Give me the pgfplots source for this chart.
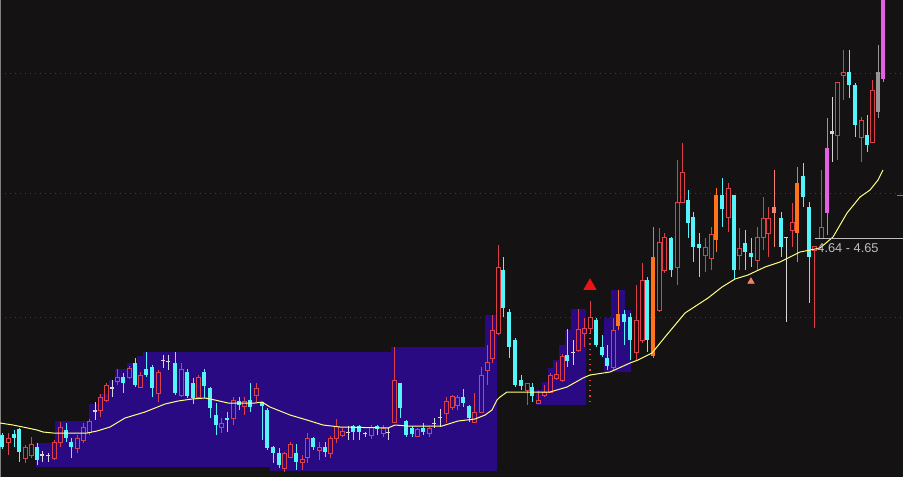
\documentclass[border=0pt]{standalone}
\usepackage{pgfplots}
\pgfplotsset{compat=1.18}
\usepackage{pgfplotstable}
\usepackage{fontspec}
\setmainfont{Liberation Sans}
\definecolor{bg}{RGB}{20,18,19}
\definecolor{band}{RGB}{42,10,130}
\definecolor{upred}{RGB}{222,64,74}
\definecolor{dncyan}{RGB}{84,245,250}
\definecolor{orng}{RGB}{255,115,25}
\definecolor{mgnt}{RGB}{230,95,230}
\definecolor{gry}{RGB}{150,150,150}
\definecolor{slmn}{RGB}{240,130,110}
\definecolor{doji}{RGB}{215,215,215}
\definecolor{ma}{RGB}{255,255,130}
\definecolor{gridc}{RGB}{64,58,58}
\definecolor{txtc}{RGB}{190,190,190}
\definecolor{trired}{RGB}{235,20,20}

% columns: x, body top, body bottom, high, low (screen units, y downward)
\pgfplotstableread{
x t b h l
8 438 442 433 455
25 447 458 445 463
31 444 455 437 458
54 442 458 440 460
60 427 442 422 447
77 438 448 435 453
83 427 440 423 443
89 421 432 419 435
100 397 410 394 417
106 385 400 383 402
117 377 381 369 385
129 368 377 366 379
140 375 387 372 388
158 372 393 370 402
181 369 395 363 397
198 377 397 375 398
221 423 427 418 433
233 400 418 397 425
244 401 406 397 415
256 388 395 383 402
284 453 468 452 472
290 444 457 442 458
302 459 462 455 470
307 438 457 433 463
319 447 450 442 460
330 438 453 436 458
336 426 438 419 443
342 431 435 428 437
371 427 435 425 439
383 428 433 425 437
394 380 422 347 422
417 429 436 428 437
429 428 433 427 437
446 401 413 397 423
452 396 407 395 410
457 397 405 395 410
474 412 422 393 422
481 375 412 367 412
487 362 370 345 385
492 330 358 315 363
498 267 333 245 335
527 383 390 383 405
538 400 403 391 403
544 392 395 385 397
550 375 392 373 393
556 374 378 362 380
562 356 380 354 382
578 329 350 309 352
584 328 333 318 347
590 317 328 301 333
613 330 367 318 370
636 320 352 285 360
642 280 340 263 343
659 242 310 228 312
664 237 270 233 273
677 202 267 160 285
682 172 202 143 203
705 247 255 238 272
711 234 258 227 270
728 188 217 183 232
739 248 255 228 270
757 237 260 227 270
763 218 237 197 250
768 218 233 207 257
792 222 230 203 247
814 246 250 246 328
821 227 238 170 238
837 82 135 82 160
843 72 75 50 100
861 120 137 117 162
872 90 142 80 143
}\redtab

\pgfplotstableread{
x t b h l
2 435 447 433 449
14 434 438 430 447
19 429 452 428 462
37 447 460 443 465
66 430 438 423 442
71 442 447 438 458
123 377 383 373 393
135 363 385 358 387
146 369 375 352 377
152 367 388 365 397
175 363 393 352 395
187 372 396 369 398
193 383 398 378 404
204 372 386 369 398
210 388 408 387 418
216 415 425 403 435
227 418 420 412 432
239 401 405 397 410
250 400 407 383 412
262 402 406 402 440
267 410 448 408 450
273 447 453 446 463
279 453 465 448 468
296 453 462 444 470
313 438 447 437 450
325 447 452 442 457
353 426 432 425 440
359 426 432 425 440
377 426 429 425 435
400 383 408 383 418
406 421 435 420 437
412 428 434 426 437
423 428 432 423 435
463 397 403 389 407
469 406 418 405 422
503 270 308 257 317
509 312 347 309 358
515 340 385 338 387
521 380 386 375 390
532 387 396 383 402
567 355 361 329 367
596 320 345 318 347
602 347 355 335 357
607 358 366 345 370
624 314 322 310 345
630 317 340 313 360
647 280 340 277 352
671 238 270 237 277
688 200 223 190 238
693 217 247 212 262
699 244 248 233 277
722 195 209 178 227
734 195 270 195 280
745 243 252 230 270
751 253 257 238 267
781 218 247 212 257
803 176 197 163 207
809 207 257 202 303
849 72 85 50 98
855 85 125 83 137
867 135 145 115 152
}\cyantab

\pgfplotstableread{
x t b h l
42 454 456 451 462
48 455 456 453 462
95 410 412 402 420
112 387 389 380 397
163 360 361 355 368
168 361 362 355 370
348 432 433 426 440
365 433 434 432 437
388 432 433 428 440
434 423 424 418 428
440 417 418 409 427
573 352 353 340 365
786 237 238 237 322
832 131 134 97 162
}\dojitab

\pgfplotstableread{
x t b h l
618 314 326 290 330
653 257 356 227 358
716 195 240 188 252
797 183 233 167 262
}\orangetab

\pgfplotstableread{
x t b h l
827 148 213 118 235
883 0 79 0 82
}\magentatab

\pgfplotstableread{
x t b h l
878 72 112 45 118
}\graytab

\pgfplotstableread{
x t b h l
774 207 213 170 247
}\salmontab

\newcommand{\wickplots}[2]{%
 \addplot[draw=none, mark=none, forget plot, error bars/.cd, y dir=both, y explicit, error mark=none, error bar style={draw=#2, line width=0.5pt, solid}]
   table[x=x, y=t, y error plus expr=0, y error minus expr=\thisrow{t}-\thisrow{h}] {#1};
 \addplot[draw=none, mark=none, forget plot, error bars/.cd, y dir=both, y explicit, error mark=none, error bar style={draw=#2, line width=0.5pt, solid}]
   table[x=x, y=b, y error plus expr=\thisrow{l}-\thisrow{b}, y error minus expr=0] {#1};
}
\newcommand{\fillbody}[3]{%
 \addplot[draw=none, mark=none, forget plot, error bars/.cd, y dir=both, y explicit, error mark=none, error bar style={draw=#2, line width=#3, line cap=butt, solid}]
   table[x=x, y=t, y error plus expr=\thisrow{b}-\thisrow{t}, y error minus expr=0] {#1};
}
\newcommand{\hollowbody}[2]{%
 \addplot[draw=none, mark=none, forget plot, error bars/.cd, y dir=both, y explicit, error mark=none, error bar style={draw=#2, line width=0.5pt, line cap=rect, solid}]
   table[x expr=\thisrow{x}-2, y=t, y error plus expr=\thisrow{b}-\thisrow{t}, y error minus expr=0] {#1};
 \addplot[draw=none, mark=none, forget plot, error bars/.cd, y dir=both, y explicit, error mark=none, error bar style={draw=#2, line width=0.5pt, line cap=rect, solid}]
   table[x expr=\thisrow{x}+2, y=t, y error plus expr=\thisrow{b}-\thisrow{t}, y error minus expr=0] {#1};
 \addplot[draw=none, mark=none, forget plot, error bars/.cd, x dir=both, x explicit, error mark=none, error bar style={draw=#2, line width=0.5pt, line cap=rect, solid}]
   table[x=x, y=t, x error expr=2] {#1};
 \addplot[draw=none, mark=none, forget plot, error bars/.cd, x dir=both, x explicit, error mark=none, error bar style={draw=#2, line width=0.5pt, line cap=rect, solid}]
   table[x=x, y=b, x error expr=2] {#1};
}

\begin{document}
\begin{tikzpicture}
\fill[bg] (0,0) rectangle (451.5pt,238.5pt);
\begin{axis}[
  at={(0,0)}, anchor=south west,
  scale only axis, width=451.5pt, height=238.5pt,
  xmin=0, xmax=903, ymin=0, ymax=477,
  y dir=reverse, hide axis, clip=true,
]
% dotted grid
\addplot[gridc, dotted, line width=0.5pt, forget plot] coordinates {(0,73) (903,73)};
\addplot[gridc, dotted, line width=0.5pt, forget plot] coordinates {(0,193) (903,193)};
\addplot[gridc, dotted, line width=0.5pt, forget plot] coordinates {(0,317) (903,317)};
% left border
\addplot[gray, line width=0.5pt, forget plot] coordinates {(0.5,0) (0.5,477)};
% purple bands
\addplot[fill=band, draw=none, forget plot] coordinates {
 (36,467) (36,443) (55,443) (55,421) (89,421) (89,404) (99,404) (99,394) (109,394) (109,380)
 (115,380) (115,369) (127,369) (127,363) (137,363) (137,356) (143,356) (143,352) (391,352)
 (391,347) (485,347) (485,315) (497,315) (497,471) (270,471) (270,467)} -- cycle;
\addplot[fill=band, draw=none, forget plot] coordinates {
 (536,405) (536,390) (542,390) (542,382) (548,382) (548,368) (553,368) (553,360) (559,360)
 (559,345) (565,345) (565,330) (571,330) (571,309) (586,309) (586,405)} -- cycle;
\addplot[fill=band, draw=none, forget plot] coordinates {
 (604,372) (604,318) (611,318) (611,290) (625,290) (625,310) (631,310) (631,372)} -- cycle;
% red dotted marker line
\addplot[upred, dotted, line width=0.6pt, forget plot] coordinates {(590,333) (590,405)};
% candles
\wickplots{\redtab}{upred}
\hollowbody{\redtab}{upred}
\wickplots{\cyantab}{dncyan}
\fillbody{\cyantab}{dncyan}{2.2pt}
\wickplots{\dojitab}{doji}
\fillbody{\dojitab}{doji}{2.2pt}
\wickplots{\orangetab}{orng}
\fillbody{\orangetab}{orng}{2.4pt}
\wickplots{\magentatab}{mgnt}
\fillbody{\magentatab}{mgnt}{2.4pt}
\wickplots{\graytab}{gry}
\fillbody{\graytab}{gry}{2.4pt}
\wickplots{\salmontab}{slmn}
\fillbody{\salmontab}{slmn}{2.4pt}
% moving average
\addplot[ma, line width=0.5pt, forget plot] coordinates {
 (0,423) (13,425) (23,427) (37,430) (43,432) (53,433) (87,433) (97,431) (110,427) (125,418)
 (145,412) (165,404) (178,401) (192,399) (205,398) (215,400) (228,403) (255,403) (262,402)
 (270,407) (290,415) (307,420) (323,425) (340,427) (388,428) (395,425) (408,426) (442,426)
 (458,421) (475,419) (485,415) (492,410) (497,400) (500,397) (507,392) (527,392) (550,392)
 (567,387) (583,378) (590,375) (610,372) (630,363) (638,360) (652,353) (665,337) (685,313)
 (708,298) (722,287) (735,279) (748,275) (765,267) (780,262) (800,252) (820,248) (833,237)
 (847,213) (860,197) (870,190) (878,180) (883,170)};
% signal triangles
\addplot[only marks, mark=triangle*, mark size=3.45pt, color=trired, forget plot] coordinates {(590,286)};
\addplot[only marks, mark=triangle*, mark size=1.75pt, color=slmn, forget plot] coordinates {(751,281.5)};
% crosshair
\addplot[txtc, line width=0.5pt, forget plot] coordinates {(815,238) (903,238)};
\addplot[gray, line width=0.5pt, forget plot] coordinates {(897,195) (903,195)};
\node[anchor=west, inner sep=0pt, text=txtc, font=\fontsize{6.4pt}{7pt}\selectfont] at (axis cs:817,248) {4.64 - 4.65};
\end{axis}
\pgfresetboundingbox
\path (0,0) rectangle (451.5pt,238.5pt);
\end{tikzpicture}
\end{document}
